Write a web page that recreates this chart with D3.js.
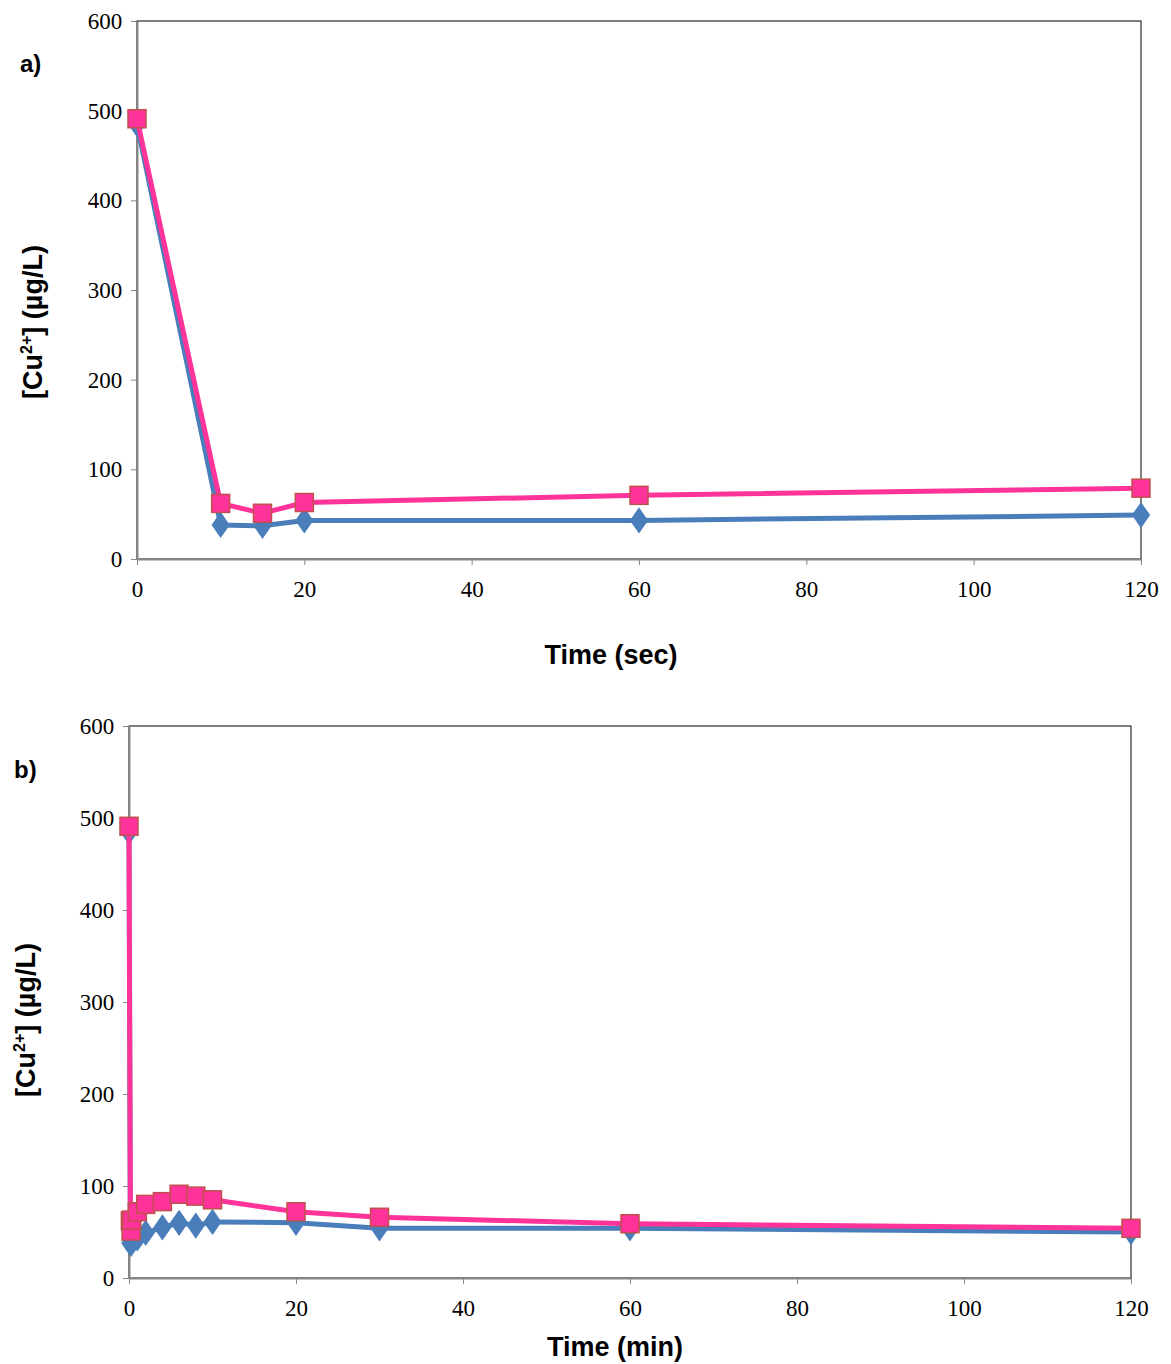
<!DOCTYPE html>
<html><head><meta charset="utf-8">
<script src="https://cdn.jsdelivr.net/npm/d3@7"></script>
<style>body{margin:0;background:#fff}</style>
</head><body>
<script>
// panel a: time in seconds
var timeA = [0, 10, 15, 20, 60, 120];
var blueA = [485, 38, 37, 43, 43, 49];
var pinkA = [491, 62, 51, 63, 71, 79];
// panel b: time in minutes
var timeB = [0, 0.167, 0.25, 0.333, 1, 2, 4, 6, 8, 10, 20, 30, 60, 120];
var blueB = [485, 38, 37, 43, 43, 49, 55, 60, 57, 61, 60, 54, 54, 50];
var pinkB = [491, 62, 51, 63, 72, 80, 83, 91, 89, 85, 72, 66, 59, 54];
var xTicks = [0, 20, 40, 60, 80, 100, 120];
var yTicks = [0, 100, 200, 300, 400, 500, 600];

var svg = d3.select("body").append("svg").attr("width", 1171).attr("height", 1364);

function panel(o) {
  var x = d3.scaleLinear().domain([0, 120]).range([o.x0, o.x1]);
  var y = d3.scaleLinear().domain([0, 600]).range([o.y0, o.y1]);
  var g = svg.append("g");
  g.append("rect").attr("x", o.x0).attr("y", o.y1).attr("width", o.x1 - o.x0).attr("height", o.y0 - o.y1)
    .attr("fill", "none").attr("stroke", "#000").attr("stroke-width", 1);
  var ax = g.append("g").attr("transform", "translate(0," + o.y0 + ")")
    .call(d3.axisBottom(x).tickValues(xTicks).tickSize(6).tickSizeOuter(0));
  var ay = g.append("g").attr("transform", "translate(" + o.x0 + ",0)")
    .call(d3.axisLeft(y).tickValues(yTicks).tickSize(6).tickSizeOuter(0));
  [ax, ay].forEach(function(a) {
    a.select(".domain").attr("stroke", "#888").attr("stroke-width", 2);
    a.selectAll(".tick line").attr("stroke", "#888");
    a.selectAll("text").attr("font-family", "Liberation Serif").attr("font-size", 23).attr("fill", "#000");
  });
  ax.selectAll("text").attr("dy", "1.25em");
  ay.selectAll("text").attr("dx", "-0.25em");
  g.append("text").attr("x", o.titleX).attr("y", o.titleY).attr("text-anchor", "middle")
    .attr("font-family", "Liberation Sans").attr("font-weight", "bold").attr("font-size", 27).text(o.xTitle);
  var yt = g.append("text").attr("transform", "translate(" + o.yTitleX + "," + o.yTitleY + ") rotate(-90)")
    .attr("text-anchor", "middle").attr("font-family", "Liberation Sans").attr("font-weight", "bold").attr("font-size", 27);
  yt.append("tspan").text("[Cu");
  yt.append("tspan").attr("font-size", 16).attr("dy", -10).text("2+");
  yt.append("tspan").attr("dy", 10).text("] (µg/L)");
  g.append("text").attr("x", o.labX).attr("y", o.labY).attr("font-family", "Liberation Sans")
    .attr("font-weight", "bold").attr("font-size", 24).text(o.label);

  var line = d3.line().x(function(d) { return x(d[0]); }).y(function(d) { return y(d[1]); });
  var bd = d3.zip(o.t, o.blue), pd = d3.zip(o.t, o.pink);
  g.append("path").datum(bd).attr("d", line).attr("fill", "none").attr("stroke", "#4a7ebb").attr("stroke-width", 5);
  g.selectAll(".bm").data(bd).enter().append("path")
    .attr("d", d3.symbol().type(d3.symbolDiamond).size(200))
    .attr("transform", function(d) { return "translate(" + x(d[0]) + "," + y(d[1]) + ") scale(1.2,1)"; })
    .attr("fill", "#4a7ebb");
  g.append("path").datum(pd).attr("d", line).attr("fill", "none").attr("stroke", "#ff3399").attr("stroke-width", 5);
  g.selectAll(".pm").data(pd).enter().append("rect")
    .attr("x", function(d) { return x(d[0]) - 9; }).attr("y", function(d) { return y(d[1]) - 9; })
    .attr("width", 18).attr("height", 18).attr("fill", "#ff3399").attr("stroke", "#c0504d").attr("stroke-width", 1.5);
}

panel({x0: 137, x1: 1141, y0: 559, y1: 21, t: timeA, blue: blueA, pink: pinkA,
  xTitle: "Time (sec)", titleX: 611, titleY: 664, yTitleX: 42, yTitleY: 322, label: "a)", labX: 20, labY: 72});
panel({x0: 129, x1: 1131, y0: 1278, y1: 726, t: timeB, blue: blueB, pink: pinkB,
  xTitle: "Time (min)", titleX: 615, titleY: 1356, yTitleX: 35, yTitleY: 1020, label: "b)", labX: 14, labY: 778});
</script>
</body></html>
